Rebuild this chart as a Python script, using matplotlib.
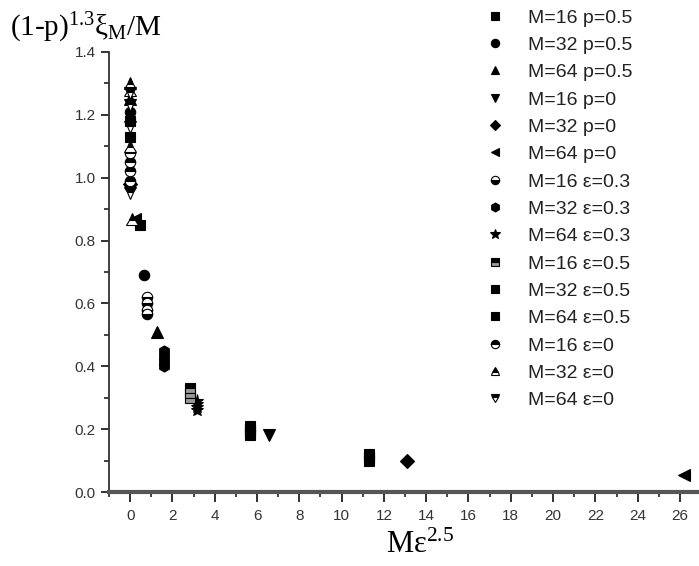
import matplotlib
matplotlib.use("Agg")
import matplotlib.pyplot as plt
from matplotlib.ticker import MultipleLocator

plt.rcParams['mathtext.fontset'] = 'custom'
plt.rcParams['mathtext.rm'] = 'Liberation Serif'
plt.rcParams['mathtext.it'] = 'Liberation Serif:italic'

# ---- data ----
labels = ["M=16 p=0.5", "M=32 p=0.5", "M=64 p=0.5",
          "M=16 p=0", "M=32 p=0", "M=64 p=0",
          "M=16 ε=0.3", "M=32 ε=0.3", "M=64 ε=0.3",
          "M=16 ε=0.5", "M=32 ε=0.5", "M=64 ε=0.5",
          "M=16 ε=0", "M=32 ε=0", "M=64 ε=0"]

x_m16_p05 = [0, 0, 0.45]
y_m16_p05 = [1.13, 1.18, 0.85]
x_m32_p05 = [0, 0.64]
y_m32_p05 = [1.21, 0.69]
x_m64_p05 = [0, 1.25]
y_m64_p05 = [1.25, 0.51]
x_m16_p0 = [0, 6.55]
y_m16_p0 = [0.96, 0.18]
x_m32_p0 = [0, 13.1]
y_m32_p0 = [0.98, 0.10]
x_m64_p0 = [0.25, 26.2]
y_m64_p0 = [0.87, 0.055]
x_m16_e03 = [0.79, 0.79, 0.79, 0.79]
y_m16_e03 = [0.62, 0.60, 0.58, 0.565]
x_m32_e03 = [1.58, 1.58, 1.58, 1.58]
y_m32_e03 = [0.45, 0.43, 0.415, 0.40]
x_m64_e03 = [3.16, 3.16, 3.16, 3.16]
y_m64_e03 = [0.29, 0.28, 0.27, 0.26]
x_m16_e05 = [2.83, 2.83, 2.83]
y_m16_e05 = [0.33, 0.315, 0.30]
x_m32_e05 = [5.66, 5.66, 5.66, 5.66]
y_m32_e05 = [0.21, 0.20, 0.19, 0.18]
x_m64_e05 = [11.31, 11.31, 11.31]
y_m64_e05 = [0.12, 0.11, 0.10]
x_m16_e0 = [0, 0, 0, 0]
y_m16_e0 = [1.08, 1.05, 1.02, 0.99]
x_m32_e0 = [0, 0, 0, 0.1]
y_m32_e0 = [1.30, 1.28, 1.10, 0.87]
x_m64_e0 = [0, 0, 0, 0]
y_m64_e0 = [1.27, 1.23, 1.16, 0.95]

xs = [x_m16_p05, x_m32_p05, x_m64_p05, x_m16_p0, x_m32_p0, x_m64_p0,
      x_m16_e03, x_m32_e03, x_m64_e03, x_m16_e05, x_m32_e05, x_m64_e05,
      x_m16_e0, x_m32_e0, x_m64_e0]
ys = [y_m16_p05, y_m32_p05, y_m64_p05, y_m16_p0, y_m32_p0, y_m64_p0,
      y_m16_e03, y_m32_e03, y_m64_e03, y_m16_e05, y_m32_e05, y_m64_e05,
      y_m16_e0, y_m32_e0, y_m64_e0]

# styles: (marker, fillstyle, alt face colour, size)
styles = [('s', 'full', 'k', 7), ('o', 'full', 'k', 7.5), ('^', 'full', 'k', 8),
          ('v', 'full', 'k', 8), ('D', 'full', 'k', 7), ('<', 'full', 'k', 8),
          ('o', 'bottom', 'white', 7.5), ('h', 'full', 'k', 8), ('*', 'full', 'k', 9.5),
          ('s', 'top', '#999999', 7), ('s', 'full', 'k', 7), ('s', 'full', 'k', 7),
          ('o', 'top', 'white', 7.5), ('^', 'top', 'white', 8), ('v', 'top', 'white', 8)]

fig = plt.figure(figsize=(6.99, 5.66), dpi=100)
ax = fig.add_axes([109/699, 74/566, 1 - 109/699, (492-52)/566])

for x, y, lab, (m, fs, alt, ms) in zip(xs, ys, labels, styles):
    ax.plot(x, y, linestyle='none', marker=m, fillstyle=fs, markersize=ms,
            markerfacecolor='k', markerfacecoloralt=alt, markeredgecolor='k',
            markeredgewidth=0.8, label=lab)

ax.set_ylim(0, 1.4)
ax.xaxis.set_major_locator(MultipleLocator(2))
ax.xaxis.set_minor_locator(MultipleLocator(1))
ax.yaxis.set_major_locator(MultipleLocator(0.2))
ax.yaxis.set_minor_locator(MultipleLocator(0.1))
ax.set_xticks(list(range(0, 27, 2)))
ax.set_xlim(-1, 26.9)

for s in ['top', 'right']:
    ax.spines[s].set_visible(False)
ax.spines['left'].set_color('#333333')
ax.spines['left'].set_linewidth(1.3)
ax.spines['bottom'].set_color('#555555')
ax.spines['bottom'].set_linewidth(3)

ax.tick_params(which='major', direction='out', length=6, width=1.3, color='#222222',
               labelsize=11, labelcolor='#333333')
ax.tick_params(which='minor', direction='out', length=3.5, width=1.2, color='#222222')
ax.tick_params(axis='x', which='both', pad=5)
ax.tick_params(axis='x', which='major', length=7)
for t in ax.get_xticklabels() + ax.get_yticklabels():
    t.set_fontfamily('Liberation Sans')
ax.yaxis.set_major_formatter(matplotlib.ticker.FormatStrFormatter('%.1f'))

leg = ax.legend(loc='upper left', bbox_to_anchor=(483/699, 1 - 9/566), bbox_transform=fig.transFigure,
                frameon=False, prop={'family': 'Liberation Sans', 'size': 14},
                labelspacing=0.5, handletextpad=1.1, handlelength=1.2, borderaxespad=0,
                borderpad=0, markerscale=0.8)
for t in leg.get_texts():
    t.set_color('#222222')

fig.text(10/699, 1 - 28/566, r'(1-p)$^{1.3}$ξ$_{\rm M}$/M', fontsize=21,
         family='Liberation Serif', va='center', ha='left')
fig.text(420/699, 1 - 545/566, r'Mε$^{2.5}$', fontsize=22,
         family='Liberation Serif', va='center', ha='center')

fig.savefig('out.png', dpi=100)
